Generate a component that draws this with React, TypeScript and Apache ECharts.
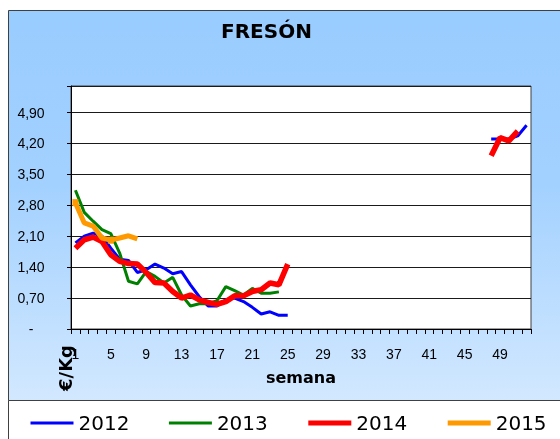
import React, { useEffect, useRef } from 'react';
import * as echarts from 'echarts';

const weeks = [
  '1', '2', '3', '4', '5', '6', '7', '8', '9', '10', '11', '12', '13',
  '14', '15', '16', '17', '18', '19', '20', '21', '22', '23', '24', '25', '26',
  '27', '28', '29', '30', '31', '32', '33', '34', '35', '36', '37', '38', '39',
  '40', '41', '42', '43', '44', '45', '46', '47', '48', '49', '50', '51', '52',
];

const N = null;

const s2012 = [
  1.95, 2.1, 2.17, 2.1, 1.83, 1.58, 1.55, 1.28, 1.34, 1.47, 1.38, 1.25, 1.3,
  1.0, 0.73, 0.52, 0.52, 0.66, 0.7, 0.62, 0.49, 0.34, 0.39, 0.31, 0.31, N,
  N, N, N, N, N, N, N, N, N, N, N, N, N,
  N, N, N, N, N, N, N, N, 4.3, 4.3, 4.3, 4.37, 4.61,
];

const s2013 = [
  3.14, 2.64, 2.44, 2.25, 2.16, 1.72, 1.08, 1.02, 1.3, 1.19, 1.04, 1.17, 0.77,
  0.52, 0.57, 0.57, 0.64, 0.96, 0.87, 0.77, 0.92, 0.81, 0.81, 0.84, N, N,
  N, N, N, N, N, N, N, N, N, N, N, N, N,
  N, N, N, N, N, N, N, N, N, N, N, N, N,
];

const s2014 = [
  1.83, 2.02, 2.08, 1.98, 1.68, 1.53, 1.48, 1.47, 1.28, 1.05, 1.04, 0.85, 0.7,
  0.77, 0.66, 0.6, 0.56, 0.62, 0.75, 0.75, 0.85, 0.89, 1.04, 1.0, 1.47, N,
  N, N, N, N, N, N, N, N, N, N, N, N, N,
  N, N, N, N, N, N, N, N, 3.92, 4.33, 4.26, 4.48, N,
];

const s2015 = [
  2.86, 2.4, 2.33, 2.06, 2.01, 2.06, 2.11, 2.04, N, N, N, N, N,
  N, N, N, N, N, N, N, N, N, N, N, N, N,
  N, N, N, N, N, N, N, N, N, N, N, N, N,
  N, N, N, N, N, N, N, N, N, N, N, N, N,
];

const yStep = 0.7;

export default function App() {
  const ref = useRef<HTMLDivElement>(null);
  useEffect(() => {
    const chart = echarts.init(ref.current!, null, { renderer: 'svg' });
    const tickFont = 'Liberation Sans, Arial, sans-serif';
    const hideSym = { opacity: 0 };
    chart.setOption({
      animation: false,
      graphic: [
        {
          type: 'rect',
          z: -10,
          shape: { x: 8.5, y: 10.5, width: 600, height: 390 },
          style: {
            fill: new echarts.graphic.LinearGradient(0, 0, 0, 1, [
              { offset: 0, color: '#99CCFF' },
              { offset: 0.45, color: '#A3D1FF' },
              { offset: 1, color: '#D2E8FF' },
            ]),
            stroke: '#404040',
            lineWidth: 1,
          },
        },
        {
          type: 'rect',
          z: -10,
          shape: { x: 8.5, y: 400.5, width: 600, height: 100 },
          style: { fill: '#FFFFFF', stroke: '#404040', lineWidth: 1 },
        },
        {
          type: 'text',
          z: 10,
          x: 65,
          y: 368,
          rotation: Math.PI / 2,
          style: {
            text: '€/Kg',
            font: 'bold 18px "DejaVu Sans", Verdana, sans-serif',
            fill: '#000',
            align: 'center',
            verticalAlign: 'middle',
          },
        },
      ],
      title: {
        text: 'FRESÓN',
        left: 216,
        top: 16,
        textStyle: {
          fontFamily: 'DejaVu Sans, Verdana, sans-serif',
          fontWeight: 'bold',
          fontSize: 20,
          color: '#000',
        },
      },
      legend: {
        left: 29,
        top: 413,
        width: 530,
        padding: 0,
        itemWidth: 43,
        itemHeight: 12,
        itemGap: 38,
        textStyle: {
          fontFamily: 'DejaVu Sans, sans-serif',
          fontSize: 20,
          color: '#000',
        },
        data: [
          { name: '2012', itemStyle: hideSym, lineStyle: { width: 3 } },
          { name: '2013', itemStyle: hideSym, lineStyle: { width: 3 } },
          { name: '2014', itemStyle: hideSym, lineStyle: { width: 5 } },
          { name: '2015', itemStyle: hideSym, lineStyle: { width: 5 } },
        ],
      },
      grid: {
        left: 71,
        right: 29,
        top: 86,
        bottom: 110,
        show: true,
        backgroundColor: '#FFFFFF',
        borderColor: '#404040',
        borderWidth: 1,
      },
      xAxis: {
        type: 'category',
        data: weeks,
        boundaryGap: true,
        name: 'semana',
        nameLocation: 'middle',
        nameGap: 40,
        nameTextStyle: {
          fontFamily: 'DejaVu Sans, Verdana, sans-serif',
          fontWeight: 'bold',
          fontSize: 16,
          color: '#000',
        },
        axisLine: { show: true, lineStyle: { color: '#000', width: 1 } },
        axisTick: { show: true, interval: 0, length: 5, lineStyle: { color: '#000' } },
        axisLabel: {
          interval: 3,
          margin: 18,
          fontFamily: tickFont,
          fontSize: 14,
          color: '#000',
        },
        splitLine: { show: false },
      },
      yAxis: {
        type: 'value',
        min: 0,
        max: 5.5,
        interval: yStep,
        axisLine: { show: true, lineStyle: { color: '#000', width: 1 } },
        axisTick: { show: true, length: 4, lineStyle: { color: '#000' } },
        axisLabel: {
          align: 'center',
          margin: 40,
          fontFamily: tickFont,
          fontSize: 14,
          color: '#000',
          formatter: (v: number) => {
            const k = v / yStep;
            if (Math.abs(k - Math.round(k)) > 1e-6) return '';
            if (Math.abs(v) < 1e-9) return '-';
            return v.toFixed(2).replace('.', ',');
          },
        },
        splitLine: { show: true, lineStyle: { color: '#1a1a1a', width: 1 } },
      },
      series: [
        {
          name: '2012',
          type: 'line',
          data: s2012,
          symbol: 'circle',
          showSymbol: false,
          connectNulls: false,
          lineStyle: { color: '#0000FF', width: 3 },
          itemStyle: { color: '#0000FF' },
          z: 2,
        },
        {
          name: '2013',
          type: 'line',
          data: s2013,
          symbol: 'circle',
          showSymbol: false,
          connectNulls: false,
          lineStyle: { color: '#008000', width: 3 },
          itemStyle: { color: '#008000' },
          z: 3,
        },
        {
          name: '2014',
          type: 'line',
          data: s2014,
          symbol: 'circle',
          showSymbol: false,
          connectNulls: false,
          lineStyle: { color: '#FF0000', width: 5.5 },
          itemStyle: { color: '#FF0000' },
          z: 4,
        },
        {
          name: '2015',
          type: 'line',
          data: s2015,
          symbol: 'rect',
          symbolSize: [6, 7],
          showSymbol: true,
          connectNulls: false,
          lineStyle: { color: '#FF9900', width: 5 },
          itemStyle: { color: '#FF9900', borderWidth: 0 },
          z: 5,
        },
      ],
    });
    return () => chart.dispose();
  }, []);
  return (
    <div
      ref={ref}
      style={{ position: 'fixed', left: 0, top: 0, width: 560, height: 439 }}
    />
  );
}
